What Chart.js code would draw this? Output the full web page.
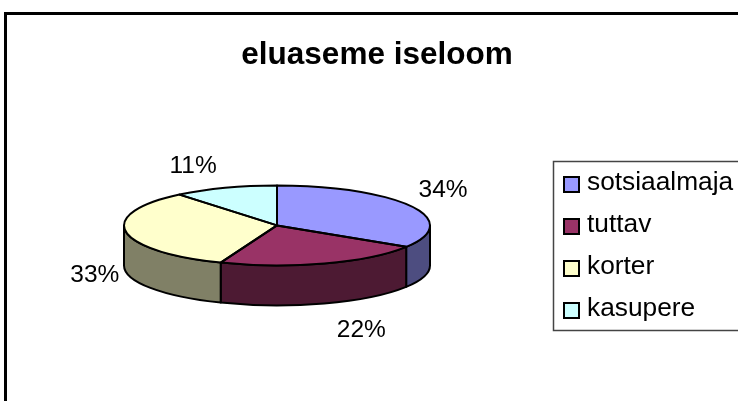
<!DOCTYPE html>
<html>
<head>
<meta charset="utf-8">
<script src="https://cdn.jsdelivr.net/npm/chart.js@4"></script>
<style>
  body { margin: 0; background: #fff; }
</style>
</head>
<body>
<canvas id="pie-chart" width="738" height="401"></canvas>
<script>
var categories = ['sotsiaalmaja', 'tuttav', 'korter', 'kasupere'];
var values = [34, 22, 33, 11];
var chartTitle = 'eluaseme iseloom';

var topColors = ['#9999FF', '#993366', '#FFFFCC', '#CCFFFF'];
var wallColors = ['#4D4D80', '#4D1A33', '#808066', '#668080'];

// label offset from the middle of each slice's rim
var labelOffsets = [[32, -16], [37, 67], [-31, 44], [-32, -22]];

var fontName = '"Liberation Sans", Arial, sans-serif';
var squash = 40 / 153;
var depth = 40;

function frontRange(arc) {
    return [Math.max(arc.startAngle, 0), Math.min(arc.endAngle, Math.PI)];
}

// Tilted pie: walls first, then the library's arcs squashed, then outlines
var tiltPlugin = {
    id: 'tilt',
    afterLayout: function(chart) {
        // title is centred over the whole frame, not over the pie
        chart.titleBlock.left += 100;
        chart.titleBlock.right += 100;
    },
    beforeDatasetDraw: function(chart) {
        var ctx = chart.ctx;
        var arcs = chart.getDatasetMeta(0).data;
        var cx = arcs[0].x, cy = arcs[0].y, r = arcs[0].outerRadius;

        ctx.save();
        ctx.lineWidth = 2;
        ctx.strokeStyle = '#000';
        ctx.lineJoin = 'round';
        arcs.forEach(function(arc, i) {
            var range = frontRange(arc);
            if (range[0] >= range[1]) return;
            ctx.beginPath();
            ctx.ellipse(cx, cy, r, r * squash, 0, range[0], range[1]);
            ctx.ellipse(cx, cy + depth, r, r * squash, 0, range[1], range[0], true);
            ctx.closePath();
            ctx.fillStyle = wallColors[i];
            ctx.fill();
            ctx.stroke();
        });
        ctx.restore();

        ctx.save();
        ctx.translate(0, cy);
        ctx.scale(1, squash);
        ctx.translate(0, -cy);
    },
    afterDatasetDraw: function(chart) {
        var ctx = chart.ctx;
        ctx.restore();

        var arcs = chart.getDatasetMeta(0).data;
        ctx.save();
        ctx.lineWidth = 2;
        ctx.strokeStyle = '#000';
        ctx.lineJoin = 'round';
        arcs.forEach(function(arc) {
            var ry = arc.outerRadius * squash;
            ctx.beginPath();
            ctx.moveTo(arc.x, arc.y);
            ctx.ellipse(arc.x, arc.y, arc.outerRadius, ry, 0, arc.startAngle, arc.endAngle);
            ctx.closePath();
            ctx.stroke();
        });
        ctx.restore();
    }
};

// Percent labels, legend box and the outer frame
var decorPlugin = {
    id: 'decor',
    afterDraw: function(chart) {
        var ctx = chart.ctx;
        var arcs = chart.getDatasetMeta(0).data;
        var total = values.reduce(function(a, b) { return a + b; }, 0);

        ctx.save();
        ctx.strokeStyle = '#000';
        ctx.lineWidth = 3;
        ctx.strokeRect(5.5, 13.5, 760, 420);

        ctx.fillStyle = '#000';
        ctx.font = '24.5px ' + fontName;
        ctx.textAlign = 'center';
        ctx.textBaseline = 'middle';
        arcs.forEach(function(arc, i) {
            var mid = (arc.startAngle + arc.endAngle) / 2;
            var x = arc.x + arc.outerRadius * Math.cos(mid);
            var y = arc.y + arc.outerRadius * squash * Math.sin(mid);
            var text = Math.round(values[i] / total * 100) + '%';
            ctx.fillText(text, x + labelOffsets[i][0], y + labelOffsets[i][1]);
        });

        ctx.strokeStyle = '#444';
        ctx.lineWidth = 1.5;
        ctx.strokeRect(553.5, 161.5, 220, 169);

        ctx.font = '26.3px ' + fontName;
        ctx.textAlign = 'left';
        ctx.textBaseline = 'alphabetic';
        categories.forEach(function(name, i) {
            var top = 177 + i * 42;
            ctx.fillStyle = topColors[i];
            ctx.fillRect(564, top, 15, 15);
            ctx.strokeStyle = '#000';
            ctx.lineWidth = 2;
            ctx.strokeRect(564, top, 15, 15);
            ctx.fillStyle = '#000';
            ctx.fillText(name, 587, top + 13);
        });
        ctx.restore();
    }
};

var chartData = {
    labels: categories,
    datasets: [{
        data: values,
        backgroundColor: topColors,
        borderWidth: 0,
        hoverOffset: 0,
        clip: false
    }]
};

var chartOptions = {
    responsive: false,
    animation: false,
    events: [],
    radius: 153,
    layout: {
        padding: { left: 16, right: 200, top: 0, bottom: 24 }
    },
    plugins: {
        legend: { display: false },
        tooltip: { enabled: false },
        title: {
            display: true,
            text: chartTitle,
            color: '#000',
            font: { family: fontName, size: 31.5, weight: 'bold', lineHeight: 1.2 },
            padding: { top: 36, bottom: 0 }
        }
    }
};

var pieChart = new Chart(document.getElementById('pie-chart'), {
    type: 'pie',
    data: chartData,
    options: chartOptions,
    plugins: [tiltPlugin, decorPlugin]
});
</script>
</body>
</html>
